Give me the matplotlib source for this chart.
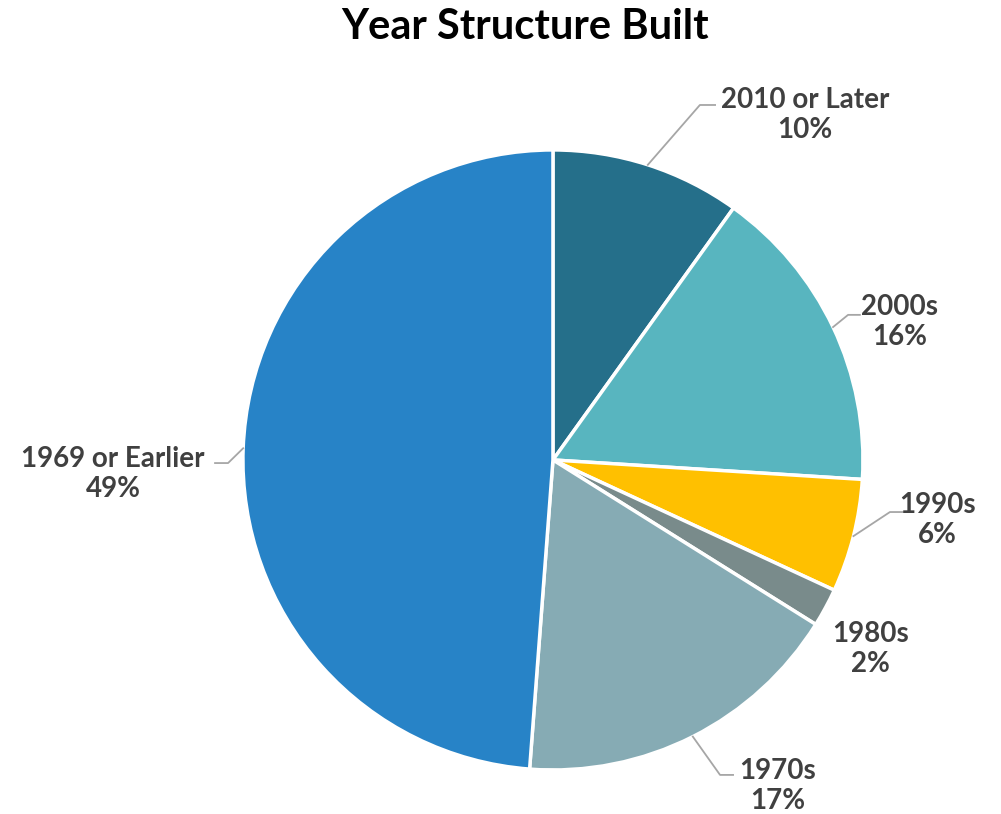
import numpy as np
import matplotlib
matplotlib.use("Agg")
import matplotlib.pyplot as plt

# ---- data ----
categories = ["2010 or Later", "2000s", "1990s", "1980s", "1970s", "1969 or Earlier"]
shares = [9.9, 16.1, 5.9, 2.0, 17.3, 48.8]
pct_labels = ["10%", "16%", "6%", "2%", "17%", "49%"]
colors = ["#256F8A", "#58B5BF", "#FFC000", "#798B8B", "#86ABB4", "#2783C7"]

# label centre and leader elbow/end (axis units, radius = 1); None = no leader
label_pos = [(0.813, 1.113), (1.119, 0.445), (1.239, -0.194),
             (1.023, -0.61), (0.726, -1.052), (-1.419, -0.045)]
leaders = [((0.474, 1.145), (0.523, 1.145)),
           ((0.952, 0.468), (0.990, 0.468)),
           ((1.087, -0.168), (1.129, -0.168)),
           None,
           ((0.539, -1.016), (0.581, -1.016)),
           ((-1.048, -0.01), (-1.090, -0.01))]

plt.rcParams['font.family'] = ['Lato', 'DejaVu Sans']
TXT = "#404040"

fig = plt.figure(figsize=(10.01, 8.14), dpi=100)
ax = fig.add_axes([0.2427, 0.0541, 0.6194, 0.7617])

wedges, _ = ax.pie(shares, colors=colors, startangle=90, counterclock=False,
                   radius=1, wedgeprops=dict(edgecolor="white", linewidth=2.5))
ax.set_xlim(-1, 1); ax.set_ylim(-1, 1)
ax.set_aspect("equal")
ax.axis("off")

for w, cat, pct, pos, ld in zip(wedges, categories, pct_labels, label_pos, leaders):
    ang = np.deg2rad((w.theta1 + w.theta2) / 2)
    edge = (np.cos(ang), np.sin(ang))
    ax.text(pos[0], pos[1], f"{cat}\n{pct}", ha="center", va="center",
            fontsize=20, fontweight="bold", color=TXT, linespacing=1.2)
    if ld is not None:
        xs = [edge[0], ld[0][0], ld[1][0]]
        ys = [edge[1], ld[0][1], ld[1][1]]
        ax.plot(xs, ys, color="#A6A6A6", lw=1.3, clip_on=False)

fig.text(0.525, 0.967, "Year Structure Built", ha="center", va="center",
         fontsize=30, fontweight="bold", color="black")

fig.savefig("out.png", dpi=100)
